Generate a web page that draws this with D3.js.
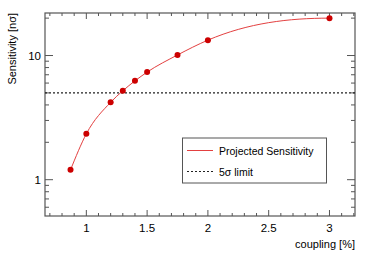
<!DOCTYPE html>
<html>
<head>
<meta charset="utf-8">
<script src="https://cdn.jsdelivr.net/npm/d3@7"></script>
<style>
  body { margin: 0; background: #fff; }
  svg { font-family: "Liberation Sans", Arial, sans-serif; }
</style>
</head>
<body>
<div id="chart"></div>
<script>
// data
const coupling = [0.87, 1.0, 1.2, 1.3, 1.4, 1.5, 1.75, 2.0, 3.0]
const sensitivity = [1.2, 2.34, 4.2, 5.2, 6.25, 7.35, 10.1, 13.3, 20.0]
const limit5sigma = [5]
const xTickLabels = [1, 1.5, 2, 2.5, 3]
const yTickLabels = [1, 10]

const width = 374, height = 255
const padL = 45, padR = 355, padT = 13, padB = 216

const svg = d3.select('#chart').append('svg')
    .attr('width', width)
    .attr('height', height)

const x = d3.scaleLinear().domain([0.66, 3.21]).range([padL, padR])
const y = d3.scaleLog().domain([0.51, 22]).range([padB, padT])

const axisColor = '#555'

// frame
svg.append('rect')
    .attr('x', padL).attr('y', padT)
    .attr('width', padR - padL).attr('height', padB - padT)
    .attr('fill', 'none').attr('stroke', axisColor).attr('stroke-width', 1.2)

// x ticks (minor every 0.1, major every 0.5), bottom and top
let xt = d3.range(7, 33).map(d => d / 10)
for (let v of xt) {
    let major = Math.abs(v * 2 - Math.round(v * 2)) < 1e-6
    let len = major ? 6 : 3
    svg.append('line').attr('x1', x(v)).attr('x2', x(v))
        .attr('y1', padB).attr('y2', padB - len)
        .attr('stroke', axisColor)
    svg.append('line').attr('x1', x(v)).attr('x2', x(v))
        .attr('y1', padT).attr('y2', padT + len)
        .attr('stroke', axisColor)
}
svg.selectAll('.xlab').data(xTickLabels).enter().append('text')
    .attr('x', d => x(d)).attr('y', 232)
    .attr('text-anchor', 'middle')
    .attr('font-size', 11.5)
    .text(d => d)

// y ticks (log)
let yt = []
for (let dec of [0.1, 1, 10]) {
    for (let k = 1; k < 10; k++) {
        let v = k * dec
        if (v >= 0.51 && v <= 22) yt.push({ v: v, major: k === 1 })
    }
}
for (let t of yt) {
    let len = t.major ? 8 : 4
    svg.append('line').attr('x1', padL).attr('x2', padL + len)
        .attr('y1', y(t.v)).attr('y2', y(t.v))
        .attr('stroke', axisColor)
    svg.append('line').attr('x1', padR).attr('x2', padR - len)
        .attr('y1', y(t.v)).attr('y2', y(t.v))
        .attr('stroke', axisColor)
}
svg.selectAll('.ylab').data(yTickLabels).enter().append('text')
    .attr('x', 41).attr('y', d => y(d) + 4)
    .attr('text-anchor', 'end')
    .attr('font-size', 11.5)
    .text(d => d)

// axis titles
svg.append('text')
    .attr('transform', 'translate(16,' + padT + ') rotate(-90)')
    .attr('text-anchor', 'end')
    .attr('font-size', 11)
    .text('Sensitivity [nσ]')
svg.append('text')
    .attr('x', padR).attr('y', 248)
    .attr('text-anchor', 'end')
    .attr('font-size', 11)
    .text('coupling [%]')

// 5 sigma line
svg.selectAll('.lim').data(limit5sigma).enter().append('line')
    .attr('x1', padL).attr('x2', padR)
    .attr('y1', d => y(d)).attr('y2', d => y(d))
    .attr('stroke', '#222').attr('stroke-width', 1.2)
    .attr('stroke-dasharray', '2,2')

// smooth curve: hermite segments, flat at the last point (like the ROOT spline)
let pts = coupling.map((c, i) => [x(c), y(sensitivity[i])])
function smoothPath(p) {
    let n = p.length
    let s = []
    for (let i = 0; i < n - 1; i++) s.push((p[i + 1][1] - p[i][1]) / (p[i + 1][0] - p[i][0]))
    let m = new Array(n)
    for (let i = 1; i < n - 1; i++) {
        let h0 = p[i][0] - p[i - 1][0], h1 = p[i + 1][0] - p[i][0]
        m[i] = (s[i - 1] * h1 + s[i] * h0) / (h0 + h1)
    }
    m[0] = (3 * s[0] - m[1]) / 2
    m[n - 1] = 0
    let path = d3.path()
    path.moveTo(p[0][0], p[0][1])
    for (let i = 0; i < n - 1; i++) {
        let h = (p[i + 1][0] - p[i][0]) / 3
        path.bezierCurveTo(p[i][0] + h, p[i][1] + m[i] * h,
            p[i + 1][0] - h, p[i + 1][1] - m[i + 1] * h,
            p[i + 1][0], p[i + 1][1])
    }
    return path.toString()
}
svg.append('path')
    .attr('d', smoothPath(pts))
    .attr('fill', 'none')
    .attr('stroke', '#e34040')
    .attr('stroke-width', 1)

svg.selectAll('.pt').data(pts).enter().append('circle')
    .attr('cx', d => d[0]).attr('cy', d => d[1])
    .attr('r', 3)
    .attr('fill', '#cc0000')

// legend
let lg = svg.append('g')
lg.append('rect')
    .attr('x', 182.5).attr('y', 138)
    .attr('width', 144).attr('height', 45)
    .attr('fill', '#fff').attr('stroke', axisColor)
lg.append('line').attr('x1', 187).attr('x2', 213)
    .attr('y1', 150.5).attr('y2', 150.5)
    .attr('stroke', '#e34040')
lg.append('text').attr('x', 219).attr('y', 154.5)
    .attr('font-size', 10.5).text('Projected Sensitivity')
lg.append('line').attr('x1', 187).attr('x2', 213)
    .attr('y1', 171.5).attr('y2', 171.5)
    .attr('stroke', '#222').attr('stroke-dasharray', '2,2')
lg.append('text').attr('x', 219).attr('y', 175.5)
    .attr('font-size', 10.5).text('5σ limit')
</script>
</body>
</html>
